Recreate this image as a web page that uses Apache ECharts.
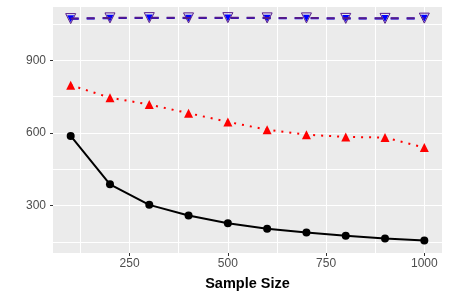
<!DOCTYPE html>
<html>
<head>
<meta charset="utf-8">
<script src="https://cdn.jsdelivr.net/npm/echarts@6/dist/echarts.min.js"></script>
<style>
html,body{margin:0;padding:0;background:#fff;}
#chart{width:450px;height:300px;}
</style>
</head>
<body>
<div id="chart"></div>
<script>
// Data
var sampleSizes = [100, 200, 300, 400, 500, 600, 700, 800, 900, 1000];
var blackSeries = [588, 388, 303, 259, 227, 204, 189, 175, 164, 156];
var redSeries = [798, 746, 718, 682, 646, 614, 593, 584, 581, 540];
var purpleSeries = [1073, 1076, 1077, 1076, 1077, 1076, 1076, 1074, 1074, 1075];
var blueSeries = [1072, 1075, 1076, 1075, 1076, 1075, 1075, 1073, 1073, 1074];
var xTicks = [250, 500, 750, 1000];
var xMinor = [125, 375, 625, 875];
var yTicks = [300, 600, 900];
var yMinor = [150, 450, 750, 1050];
var xTitle = 'Sample Size';

function pairs(ys) { return sampleSizes.map(function (x, i) { return [x, ys[i]]; }); }
function plain(v) { return String(v); }

var gridLines = []
  .concat(xTicks.map(function (v) { return { xAxis: v }; }))
  .concat(xMinor.map(function (v) { return { xAxis: v }; }))
  .concat(yTicks.map(function (v) { return { yAxis: v }; }))
  .concat(yMinor.map(function (v) { return { yAxis: v }; }));

var chart = echarts.init(document.getElementById('chart'), null, { renderer: 'canvas' });
chart.setOption({
  animation: false,
  textStyle: { fontFamily: 'Liberation Sans, Arial, sans-serif' },
  grid: { left: 53, right: 8, top: 7, bottom: 47, show: true, backgroundColor: '#EBEBEB', borderWidth: 0 },
  xAxis: {
    type: 'value', min: 55, max: 1045,
    name: xTitle, nameLocation: 'middle', nameGap: 23,
    nameTextStyle: { fontSize: 14.5, fontWeight: 'bold', color: '#000' },
    axisLine: { show: false },
    axisTick: { show: true, length: 3, customValues: xTicks, lineStyle: { color: '#333333', width: 1 } },
    axisLabel: { customValues: xTicks, margin: 5, fontSize: 12, color: '#4D4D4D', formatter: plain },
    splitLine: { show: false }
  },
  yAxis: {
    type: 'value', min: 104, max: 1121,
    axisLine: { show: false },
    axisTick: { show: true, length: 3, customValues: yTicks, lineStyle: { color: '#333333', width: 1 } },
    axisLabel: { customValues: yTicks, margin: 7, fontSize: 12, color: '#4D4D4D', formatter: plain },
    splitLine: { show: false }
  },
  series: [
    {
      type: 'line', data: [], silent: true, z: 0,
      markLine: {
        z: 0, silent: true, symbol: 'none', animation: false,
        label: { show: false },
        lineStyle: { color: '#FFFFFF', type: 'solid', width: 1 },
        emphasis: { disabled: true },
        data: gridLines
      }
    },
    {
      type: 'line', data: pairs(blackSeries), z: 3,
      symbol: 'circle', symbolSize: 8,
      itemStyle: { color: '#000000' },
      lineStyle: { color: '#000000', width: 2 }
    },
    {
      type: 'line', data: pairs(redSeries), z: 3,
      symbol: 'triangle', symbolSize: 9,
      itemStyle: { color: '#FF0000' },
      lineStyle: { color: '#FF0000', width: 2, type: [2, 6] }
    },
    {
      type: 'line', data: pairs(blueSeries), z: 3,
      symbol: 'triangle', symbolRotate: 180, symbolSize: 7,
      itemStyle: { color: '#0000FF' },
      lineStyle: { color: '#0000FF', width: 2, type: [8, 8] }
    },
    {
      type: 'line', data: pairs(purpleSeries), z: 4,
      symbol: 'triangle', symbolRotate: 180, symbolSize: 10,
      itemStyle: { color: 'rgba(0,0,0,0)', borderColor: '#551A8B', borderWidth: 1 },
      lineStyle: { color: '#551A8B', width: 2, type: [8, 8] }
    }
  ]
});
</script>
</body>
</html>
